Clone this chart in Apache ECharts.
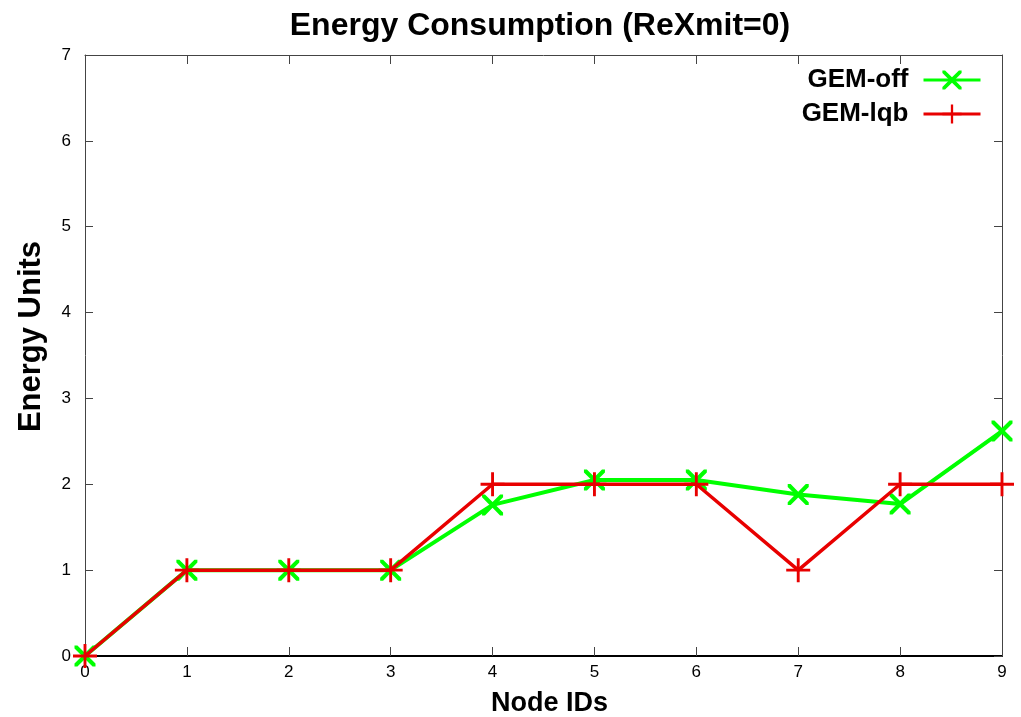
<!DOCTYPE html>
<html>
<head>
<meta charset="utf-8">
<script src="https://cdn.jsdelivr.net/npm/echarts@6/dist/echarts.min.js"></script>
<style>
html,body{margin:0;padding:0;background:#fff;}
#c{width:1021px;height:717px;}
</style>
</head>
<body>
<div id="c"></div>
<script>
var nodeIds = [0,1,2,3,4,5,6,7,8,9];
var gemOff = [0,1,1,1,1.76,2.05,2.05,1.88,1.77,2.62];
var gemLqb = [0,1,1,1,2,2,2,1,2,2];
var yTicks = [0,1,2,3,4,5,6,7];

var xSym = 'path://M0,0 L2.8,0 L10,7.2 L17.2,0 L20,0 L20,2.8 L12.8,10 L20,17.2 L20,20 L17.2,20 L10,12.8 L2.8,20 L0,20 L0,17.2 L7.2,10 L0,2.8 Z';
var pSym = 'path://M8.8,0 L11.2,0 L11.2,8.8 L20,8.8 L20,11.2 L11.2,11.2 L11.2,20 L8.8,20 L8.8,11.2 L0,11.2 L0,8.8 L8.8,8.8 Z';

var font = 'Liberation Sans, Arial, sans-serif';
var chart = echarts.init(document.getElementById('c'));
var thinAxis = {color:'#444', width:1};
var tickStyle = {color:'#444', width:1};
chart.setOption({
  backgroundColor:'#fff',
  animation:false,
  title:{text:'Energy Consumption (ReXmit=0)', left:535, textAlign:'center', top:5,
    textStyle:{fontFamily:font, fontWeight:'bold', fontSize:32, color:'#000'}},
  grid:{left:85, right:19, top:55, bottom:61, outerBoundsMode:'none', containLabel:false},
  legend:{orient:'vertical', right:34, top:62, align:'right', itemWidth:57, itemHeight:24, itemGap:8,
    textStyle:{fontFamily:font, fontWeight:'bold', fontSize:26, color:'#000', padding:[0,10,0,0]},
    data:[{name:'GEM-off', lineStyle:{width:3}}, {name:'GEM-lqb', lineStyle:{width:3}}]},
  xAxis:[{type:'value', min:0, max:9, interval:1, name:'Node IDs', nameLocation:'middle', nameGap:34,
    nameTextStyle:{fontFamily:font, fontWeight:'bold', fontSize:27, color:'#000', padding:[0,0,0,12]},
    axisLine:{onZero:false, lineStyle:{color:'#000', width:2}}, axisTick:{inside:true, length:9, lineStyle:tickStyle},
    axisLabel:{fontFamily:font, fontSize:17, color:'#000', margin:8}, splitLine:{show:false}},
   {type:'value', position:'top', min:0, max:9, interval:1,
    axisLine:{show:true, onZero:false, lineStyle:thinAxis}, axisTick:{inside:true, length:9, lineStyle:tickStyle},
    axisLabel:{show:false}, splitLine:{show:false}}],
  yAxis:[{type:'value', min:0, max:7, interval:1, name:'Energy Units', nameLocation:'middle', nameGap:38,
    nameTextStyle:{fontFamily:font, fontWeight:'bold', fontSize:31, color:'#000', padding:[0,0,0,38]},
    axisLine:{show:true, onZero:false, lineStyle:thinAxis}, axisTick:{show:true, inside:true, length:8, lineStyle:tickStyle},
    axisLabel:{fontFamily:font, fontSize:17, color:'#000', margin:14,
      formatter:function(v){return yTicks.indexOf(v)>=0 ? String(v) : '';}}, splitLine:{show:false}},
   {type:'value', position:'right', min:0, max:7, interval:1,
    axisLine:{show:true, onZero:false, lineStyle:thinAxis}, axisTick:{show:true, inside:true, length:8, lineStyle:tickStyle},
    axisLabel:{show:false}, splitLine:{show:false}}],
  series:[
    {name:'GEM-off', type:'line', data:nodeIds.map(function(x,i){return [x,gemOff[i]];}),
     symbol:xSym, symbolSize:21, showAllSymbol:true,
     lineStyle:{color:'#00ff00', width:4}, itemStyle:{color:'#00ff00'}, z:2},
    {name:'GEM-lqb', type:'line', data:nodeIds.map(function(x,i){return [x,gemLqb[i]];}),
     symbol:pSym, symbolSize:24, showAllSymbol:true,
     lineStyle:{color:'#e80000', width:3.5}, itemStyle:{color:'#e80000'}, z:3}
  ]
});
</script>
</body>
</html>
